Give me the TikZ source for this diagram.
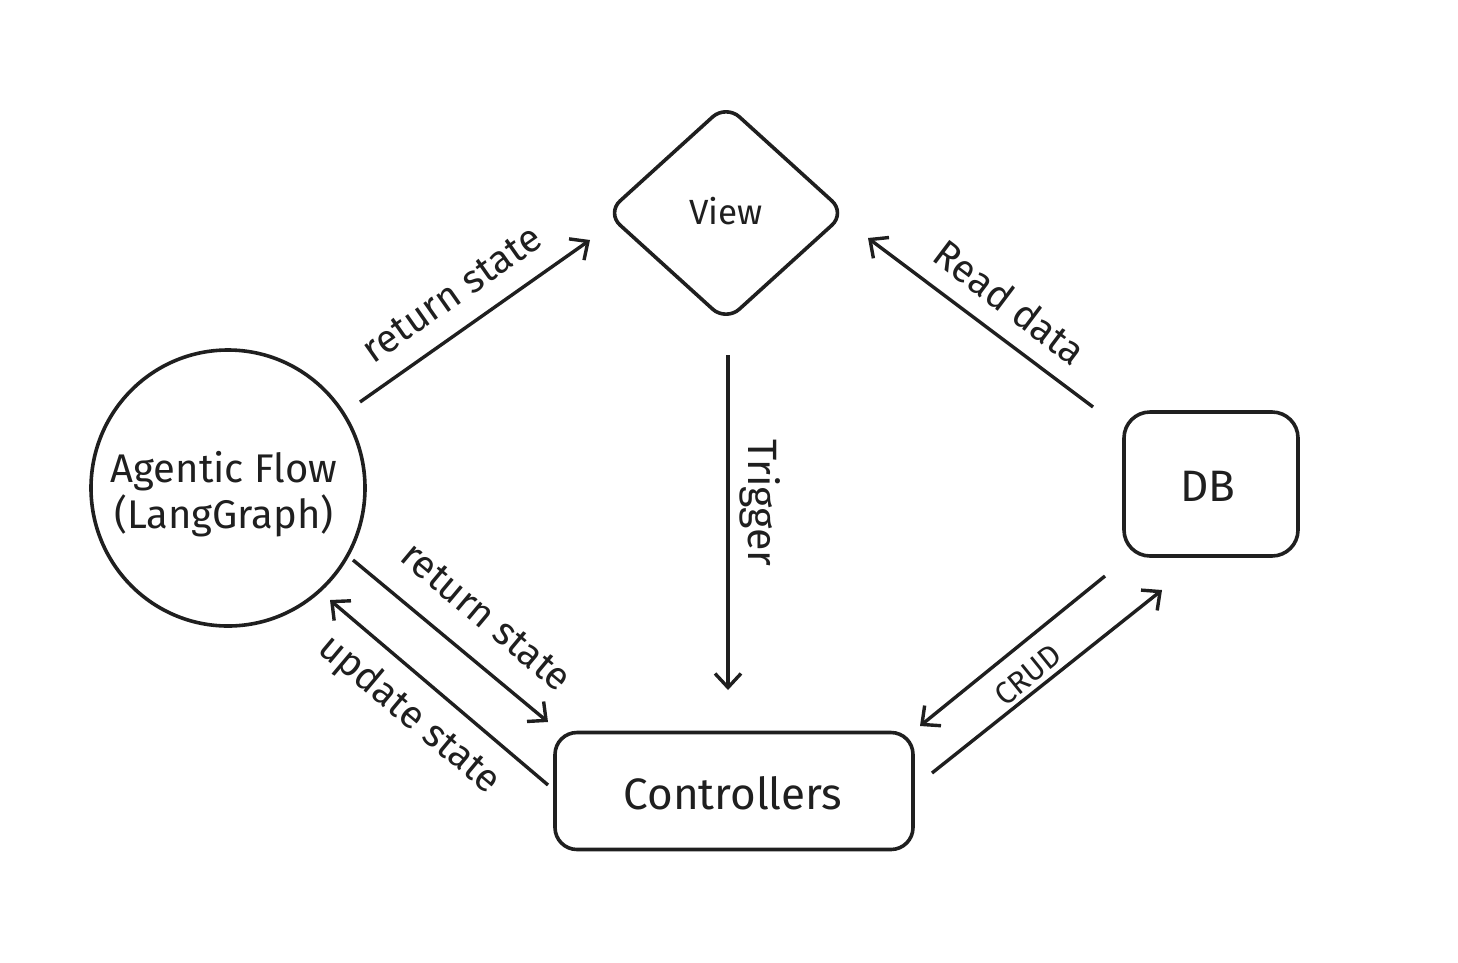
\documentclass[tikz,border=0pt]{standalone}
\usepackage{fontspec}
\setmainfont{Fira Sans}
\usetikzlibrary{arrows.meta,shapes.geometric}
\begin{document}
\begin{tikzpicture}[x=1pt,y=-1pt,
  shape line/.style={draw=black!88,line width=3.6pt},
  conn/.style={draw=black!88,line width=3.4pt,-{Straight Barb[length=14pt,width=26pt,line width=3.4pt]}},
  lbl/.style={text=black!88,font=\fontsize{39}{44}\selectfont,inner sep=0pt},
  big/.style={text=black!88,font=\fontsize{40}{46}\selectfont,inner sep=0pt,align=center}]
\useasboundingbox (0,0) rectangle (1458,962);
% shapes
\node[shape line,ellipse,minimum width=274pt,minimum height=276pt,inner sep=0pt] (agent) at (228,488) {};
\node[big] (agenttxt) at (224,494) {Agentic Flow\\(LangGraph)};
\node[shape line,diamond,rounded corners=18pt,minimum width=240pt,minimum height=218pt,inner sep=0pt] (view) at (726,213) {};
\node[big,font=\fontsize{35}{40}\selectfont] (viewtxt) at (726,211) {View};
\node[shape line,rectangle,rounded corners=26pt,minimum width=174pt,minimum height=144pt,inner sep=0pt] (db) at (1211,484) {};
\node[big,font=\fontsize{44}{50}\selectfont] (dbtxt) at (1208,486) {DB};
\node[shape line,rectangle,rounded corners=22pt,minimum width=358pt,minimum height=117pt,inner sep=0pt] (ctrl) at (734,791) {};
\node[big,font=\fontsize{44}{50}\selectfont] (ctrltxt) at (733,793) {Controllers};
% connector end points
\coordinate (a1) at (360,402); \coordinate (v1) at (590,240);
\coordinate (d1) at (1093,407); \coordinate (v2) at (868,238);
\coordinate (v3) at (728,355); \coordinate (c1) at (728,690);
\coordinate (a2) at (353,560); \coordinate (c2) at (548,722);
\coordinate (c3) at (548,785); \coordinate (a3) at (330,600);
\coordinate (d2) at (1105,576); \coordinate (c4) at (920,726);
\coordinate (c5) at (932,773); \coordinate (d3) at (1162,590);
% connectors
\draw[conn] (a1) -- (v1);
\draw[conn] (d1) -- (v2);
\draw[conn] (v3) -- (c1);
\draw[conn] (a2) -- (c2);
\draw[conn] (c3) -- (a3);
\draw[conn] (d2) -- (c4);
\draw[conn] (c5) -- (d3);
% labels
\node[lbl,rotate=35] (l1) at (452,294) {return state};
\node[lbl,rotate=-37] (l2) at (1010,302) {Read data};
\node[lbl,rotate=-90,font=\fontsize{41}{46}\selectfont] (l3) at (760,503) {Trigger};
\node[lbl,rotate=-40] (l4) at (486,617) {return state};
\node[lbl,rotate=-40] (l5) at (409,715) {update state};
\node[lbl,rotate=39,font=\fontsize{31}{36}\selectfont] (l6) at (1028,675) {CRUD};
\end{tikzpicture}
\end{document}
